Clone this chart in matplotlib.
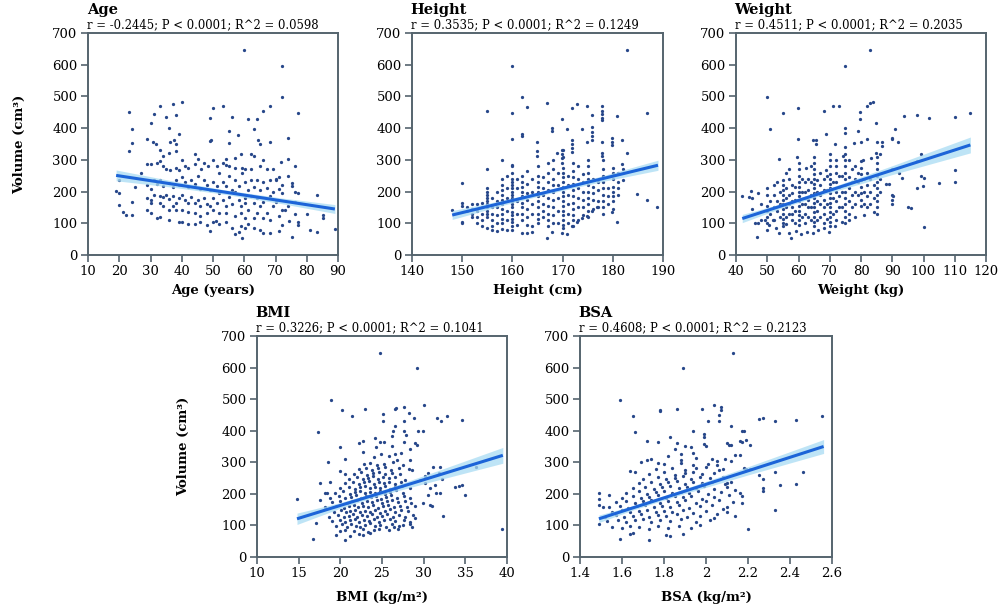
import numpy as np
import matplotlib
matplotlib.use("Agg")
from matplotlib import pyplot as plt

plt.rcParams['font.family'] = ['DejaVu Serif']

# ---------------- data ----------------
vol_ticks = [0, 100, 200, 300, 400, 500, 600, 700]

# Age panel: (age, volume)
age_pts = [
    (60.0, 645), (72.1, 596), (72.1, 497), (77.1, 447), (23.0, 451), (24.1, 396), (24.1, 354), (23.0, 327),
    (33.0, 470), (37.1, 475), (40.1, 481), (31.1, 446), (35.1, 436), (38.0, 440), (30.1, 415), (36.0, 399),
    (39.1, 380), (29.0, 365), (30.9, 357), (31.9, 351), (36.1, 357), (37.5, 364), (38.3, 351), (33.0, 332),
    (36.0, 322), (38.1, 328), (50.1, 462), (53.1, 471), (49.0, 432), (56.1, 434), (55.1, 390), (58.1, 377),
    (49.5, 364), (49.0, 360), (55.1, 352), (61.2, 430), (64.2, 429), (66.1, 454), (68.1, 469), (63.1, 396),
    (64.3, 364), (65.1, 351), (68.1, 355), (74.1, 369), (71.9, 292), (74.1, 304), (76.1, 280), (83.2, 189),
    (85.2, 126), (85.2, 116), (80.2, 129), (81.1, 78), (83.2, 71), (89.0, 81), (75.2, 58), (59.2, 55),
    (57.1, 67), (49.0, 77), (19.0, 202), (20.0, 197), (20.0, 158), (21.1, 135), (22.1, 126), (24.1, 126),
    (24.1, 167), (25.0, 213), (20.0, 238), (27.1, 259),
    (44.1, 320), (45.2, 304), (47.1, 291), (50.1, 301), (54.2, 303), (57.0, 305), (59.0, 320), (62.2, 320),
    (63.1, 311), (66.1, 301), (40.1, 301), (41.1, 282), (42.0, 275), (34.1, 311), (30.1, 288), (29.0, 288),
    (32.0, 290), (33.0, 295), (34.1, 280), (35.1, 272), (36.1, 267), (38.2, 274), (39.0, 267), (44.1, 288),
    (46.3, 271), (48.3, 280), (51.2, 282), (53.1, 289), (54.1, 285), (55.1, 280), (57.0, 275), (59.2, 274),
    (60.1, 271), (62.1, 271), (65.1, 280), (67.2, 272), (69.2, 272), (70.3, 241), (71.1, 247), (72.2, 222),
    (74.1, 248), (75.2, 226), (75.2, 216), (76.1, 200), (77.2, 195), (76.1, 166), (74.1, 153), (73.1, 143),
    (76.1, 130), (77.2, 103), (77.2, 95), (74.2, 107), (72.2, 96), (71.1, 76), (68.1, 69), (66.1, 69),
    (65.1, 80), (63.1, 84), (61.2, 97), (60.1, 86), (59.0, 92), (58.2, 71), (56.1, 86), (54.2, 103),
    (52.0, 98), (51.1, 108), (50.1, 105), (48.0, 94), (46.0, 103), (44.1, 98), (42.0, 97), (40.1, 103),
    (39.0, 103), (36.0, 111), (33.0, 120), (32.0, 116), (30.1, 132), (29.0, 143), (30.1, 164), (30.1, 174),
    (29.0, 180), (31.1, 189), (33.0, 185), (34.1, 183), (35.1, 189), (36.0, 177), (37.1, 185), (37.1, 153),
    (38.2, 164), (39.1, 181), (40.1, 189), (41.1, 174), (42.1, 164), (43.1, 183), (44.1, 164), (45.1, 174),
    (46.0, 156), (47.1, 179), (48.1, 162), (49.0, 153), (50.1, 181), (51.2, 164), (52.0, 195), (53.1, 174),
    (54.2, 153), (55.1, 183), (56.1, 162), (57.0, 198), (58.2, 174), (59.0, 153), (59.0, 132), (60.1, 179),
    (60.1, 164), (61.2, 143), (62.2, 187), (63.1, 164), (64.2, 179), (64.2, 132), (65.1, 153), (66.1, 168),
    (67.2, 132), (68.1, 187), (69.2, 153), (70.2, 166), (71.1, 124), (72.2, 143), (68.1, 111), (66.1, 116),
    (63.1, 116), (60.1, 116), (57.0, 124), (54.2, 132), (52.0, 132), (50.1, 141), (48.0, 132), (46.0, 124),
    (44.1, 132), (42.0, 137), (40.1, 143), (38.2, 143), (36.0, 143), (34.1, 153), (33.0, 164),
    (29.0, 222), (30.1, 208), (31.1, 238), (32.0, 225), (33.0, 238), (34.1, 219), (36.0, 227), (37.1, 214),
    (38.2, 238), (39.1, 221), (40.1, 246), (41.1, 229), (42.0, 214), (43.1, 238), (44.1, 225), (45.1, 248),
    (46.0, 208), (47.1, 238), (48.1, 221), (49.0, 206), (50.1, 231), (51.2, 217), (52.0, 259), (53.1, 231),
    (54.2, 219), (55.1, 248), (56.1, 206), (57.0, 238), (58.2, 217), (59.2, 259), (60.1, 229), (61.2, 206),
    (62.2, 238), (63.1, 214), (64.2, 238), (65.1, 206), (66.1, 229), (67.2, 210), (68.1, 238), (69.2, 200),
    (70.2, 238), (71.1, 208), (72.2, 195),
]

# Height panel: scattered points plus columns at whole centimetres
height_pts = [
    (182.9, 645), (159.9, 596), (161.9, 497), (162.9, 468), (166.9, 480), (154.9, 455), (159.9, 447),
    (171.9, 462), (172.8, 476), (174.9, 471), (177.8, 471), (177.8, 453), (177.8, 444), (177.8, 431),
    (177.8, 425), (175.9, 440), (180.8, 437), (186.9, 447), (169.9, 430), (167.9, 400), (167.9, 390),
    (170.9, 396), (173.9, 396), (175.9, 404), (175.9, 388), (175.9, 374), (175.9, 362), (174.9, 357),
    (161.9, 383), (161.9, 374), (159.9, 365), (164.9, 357), (164.9, 327), (164.9, 311), (169.9, 332),
    (169.9, 320), (169.9, 306), (169.9, 290), (168.9, 322), (171.9, 364), (171.9, 351), (171.9, 338),
    (171.9, 324), (177.8, 357), (177.8, 322), (177.8, 311), (179.8, 370), (179.8, 357), (179.8, 347),
    (181.8, 364), (182.8, 322), (181.8, 288), (184.9, 192), (186.9, 174), (188.9, 152), (180.8, 105),
    (179.8, 136), (150.0, 226), (150.0, 164), (150.0, 156), (150.0, 105), (150.0, 100), (148.0, 143),
    (154.9, 271), (157.9, 301), (152.0, 146), (152.0, 120), (153.0, 101), (153.9, 92), (154.9, 85),
    (155.9, 80), (156.9, 76), (157.9, 82), (159.9, 78), (161.9, 69), (162.9, 69), (163.9, 71), (166.9, 55),
    (167.9, 74), (169.9, 69), (170.9, 66), (171.9, 90), (172.8, 103), (173.9, 116), (174.9, 124),
    (175.9, 138), (176.9, 151),
]
height_cols = [
    (151, [140, 150]), (152, [130, 160]), (153, [120, 140, 160]), (154, [110, 130, 150, 165]),
    (155, [120, 130, 140, 150, 160, 170, 180, 190, 200, 210]),
    (156, [90, 110, 130, 150, 180]), (157, [100, 125, 150, 170, 200]),
    (158, [100, 115, 130, 145, 160, 175, 190, 205, 220, 240]),
    (159, [80, 110, 140, 180, 210, 250]),
    (160, [90, 105, 115, 125, 135, 150, 160, 170, 180, 190, 200, 210, 220, 230, 240, 260, 280, 285]),
    (161, [95, 130, 170, 210, 240]),
    (162, [110, 130, 150, 165, 185, 200, 215, 230, 250]),
    (163, [95, 120, 145, 175, 195, 225, 265]),
    (164, [90, 130, 160, 200, 240]),
    (165, [100, 115, 130, 150, 170, 185, 200, 215, 230, 250, 280]),
    (166, [120, 140, 160, 190, 210, 245]),
    (167, [90, 110, 130, 155, 180, 205, 230, 260, 290]),
    (168, [100, 125, 150, 175, 200, 220, 240, 270, 300]),
    (169, [100, 140, 180, 220, 260]),
    (170, [85, 95, 110, 125, 140, 155, 170, 185, 200, 215, 230, 245, 260, 275, 310, 330]),
    (171, [100, 130, 160, 190, 220, 250]),
    (172, [90, 110, 125, 145, 165, 185, 205, 225, 245, 265, 290]),
    (173, [110, 150, 180, 210, 240, 280]),
    (174, [125, 150, 175, 200, 230, 255]),
    (175, [120, 140, 160, 180, 200, 220, 240, 260, 280, 300]),
    (176, [145, 175, 195, 215, 240]),
    (177, [150, 170, 205, 230]),
    (178, [130, 150, 170, 190, 210, 230, 250, 270, 300]),
    (179, [160, 185, 210]),
    (180, [145, 170, 185, 200, 215, 240, 260, 275]),
    (181, [190, 210, 230, 260]),
    (182, [235, 270]),
]

# Weight panel
weight_pts = [
    (82.9, 645), (74.9, 596), (49.8, 497), (83.7, 482), (82.9, 478), (81.9, 471), (59.7, 462), (70.9, 469),
    (72.9, 469), (68.0, 454), (54.9, 447), (79.8, 451), (79.8, 430), (93.9, 437), (97.8, 440), (101.9, 431),
    (110.0, 434), (115.0, 447), (50.8, 396), (84.9, 416), (74.9, 399), (74.9, 385), (78.9, 390), (68.8, 380),
    (59.7, 366), (64.7, 364), (65.6, 364), (65.6, 351), (71.8, 349), (77.9, 352), (80.1, 357), (81.8, 366),
    (85.0, 357), (86.6, 357), (89.8, 366), (89.8, 370), (91.9, 356), (90.8, 398), (86.6, 343), (99.2, 318),
    (97.9, 297), (110.0, 269), (97.9, 211), (99.2, 248), (100.2, 242), (99.7, 219), (104.9, 227),
    (110.0, 229), (96.1, 149), (100.2, 88), (93.0, 243), (90.1, 185), (88.9, 225),
    (41.9, 187), (44.1, 183), (44.9, 202), (47.0, 194), (47.0, 102), (46.8, 58), (49.2, 111), (49.8, 80),
    (50.7, 96), (51.9, 111), (52.8, 84), (53.9, 69), (54.9, 90), (56.0, 97), (57.1, 69), (57.7, 55),
    (59.2, 76), (60.9, 65), (62.8, 71), (64.7, 69), (66.2, 80), (68.0, 86), (69.9, 74), (71.8, 92),
    (73.9, 103), (76.1, 111), (81.0, 126), (84.1, 137), (53.9, 303), (56.9, 271), (59.6, 309), (62.4, 274),
    (64.0, 282), (68.8, 269), (72.0, 301), (74.1, 313), (76.3, 301), (80.5, 298), (83.2, 306), (84.8, 322),
    (86.1, 320),
]
weight_cols = [
    (45, [180, 145]), (46, [100]), (48, [110, 160]), (50, [100, 120, 140, 155, 190, 210]),
    (51, [130, 170]), (52, [110, 150, 190, 220]), (53, [140, 170, 230]), (54, [120, 160, 200]),
    (55, [100, 115, 130, 145, 160, 175, 190, 205, 220, 235]),
    (56, [120, 150, 180, 210, 260]), (57, [130, 160, 190, 240]),
    (58, [110, 130, 150, 170, 195, 220]), (59, [100, 140, 175, 215]),
    (60, [95, 110, 125, 140, 155, 170, 185, 200, 215, 230, 250, 270, 290]),
    (61, [120, 160, 200, 240]), (62, [100, 130, 160, 180, 200, 230]), (63, [120, 150, 175, 205, 240]),
    (64, [110, 150, 190, 230]),
    (65, [90, 105, 120, 135, 150, 165, 180, 195, 210, 225, 240, 255, 270, 290, 310]),
    (66, [110, 140, 170, 200, 235]), (67, [120, 160, 190, 220, 260]), (68, [100, 130, 150, 175, 205, 240]),
    (69, [115, 160, 205, 250]),
    (70, [90, 105, 120, 135, 150, 165, 180, 195, 210, 225, 240, 255, 280, 300, 320]),
    (71, [130, 180, 230]), (72, [110, 140, 170, 200, 230, 260, 280]), (73, [150, 185, 215, 250]),
    (74, [150, 200, 250]),
    (75, [100, 120, 140, 160, 180, 200, 220, 240, 260, 280, 300, 320, 340]),
    (76, [130, 170, 210, 245]), (77, [150, 190, 230, 270]), (78, [120, 160, 200, 240, 280]),
    (79, [190, 230, 260]),
    (80, [155, 175, 195, 215, 235, 255, 275, 295]),
    (81, [160, 200, 240]), (82, [150, 185, 220, 260]), (83, [160, 200, 240]), (84, [180, 220]),
    (85, [130, 150, 170, 190, 210, 230, 250, 270, 290, 310]),
    (86, [200, 240]), (88, [225]), (90, [160, 175, 190, 270]), (92, [260]), (95, [150]),
]

# BMI panel
bmi_pts = [
    (24.7, 647), (29.2, 598), (18.9, 498), (22.9, 470), (20.2, 465), (21.4, 448), (26.6, 470), (26.7, 472),
    (27.6, 475), (30.0, 482), (25.1, 452), (25.1, 431), (28.2, 455), (28.8, 439), (31.6, 441), (32.1, 432),
    (32.8, 447), (34.6, 433), (17.3, 397), (27.6, 430), (26.5, 416), (27.6, 398), (27.9, 388), (29.3, 398),
    (29.9, 398), (26.3, 399), (26.2, 383), (22.2, 362), (22.7, 366), (24.7, 364), (25.2, 364), (24.1, 378),
    (19.9, 350), (22.7, 331), (24.3, 350), (26.2, 352), (27.6, 364), (29.0, 360), (29.2, 356), (28.4, 341),
    (27.3, 328), (18.5, 302), (20.6, 309), (24.0, 318), (24.9, 326), (25.8, 320), (26.5, 325), (26.8, 307),
    (28.4, 306), (28.6, 276), (31.1, 285), (31.9, 285), (32.2, 248), (36.3, 285), (33.7, 223), (34.2, 225),
    (34.6, 229), (35.0, 197), (32.3, 130), (39.4, 88), (14.8, 185), (16.7, 56), (17.1, 107), (17.6, 181),
    (17.6, 234), (18.1, 202), (18.4, 204), (18.8, 238), (19.5, 69), (20.6, 54), (21.2, 67), (19.9, 272),
    (20.6, 264), (20.0, 83), (22.2, 74), (22.7, 69), (23.6, 77), (24.6, 88), (26.4, 96), (26.9, 90),
    (27.5, 100), (28.4, 103), (28.6, 94), (29.0, 125), (29.9, 172), (30.5, 197), (30.8, 164), (31.0, 162),
    (31.5, 204), (31.9, 204), (31.4, 229), (30.7, 220), (30.2, 235), (29.5, 244), (30.1, 257), (30.5, 267),
    (31.8, 267),
    (20.5, 86), (21.6, 82), (22.7, 88), (23.3, 80), (24.0, 84), (25.8, 87),
    (19.5, 98), (20.2, 103), (20.8, 96), (21.3, 105), (21.9, 99), (22.4, 94), (23.0, 102), (23.6, 107),
    (24.2, 97), (24.8, 101), (25.5, 95), (26.2, 104), (27.0, 99),
    (19.0, 114), (20.0, 118), (20.6, 111), (21.1, 116), (21.7, 120), (22.2, 112), (22.8, 117), (23.4, 113),
    (24.0, 119), (24.6, 110), (25.2, 116), (25.9, 121), (26.6, 113), (27.6, 118), (28.4, 112),
    (18.6, 128), (19.7, 133), (20.4, 126), (21.0, 131), (21.5, 136), (22.0, 127), (22.6, 132), (23.2, 129),
    (23.8, 135), (24.4, 126), (25.0, 131), (25.6, 137), (26.3, 128), (27.0, 133), (27.8, 127), (28.7, 132),
    (19.2, 143), (20.1, 148), (20.7, 141), (21.2, 146), (21.8, 150), (22.3, 142), (22.9, 147), (23.5, 144),
    (24.1, 149), (24.7, 140), (25.3, 146), (25.9, 151), (26.5, 143), (27.3, 148), (28.1, 145),
    (18.2, 158), (19.5, 163), (20.4, 156), (21.0, 161), (21.6, 165), (22.1, 157), (22.7, 162), (23.3, 159),
    (23.9, 164), (24.5, 155), (25.1, 161), (25.7, 166), (26.4, 158), (27.1, 163), (28.0, 157), (28.9, 162),
    (19.0, 173), (20.0, 178), (20.8, 171), (21.4, 176), (22.0, 180), (22.6, 172), (23.2, 177), (23.8, 174),
    (24.4, 179), (25.0, 170), (25.6, 176), (26.2, 181), (26.9, 173), (27.7, 178), (28.5, 172),
    (18.7, 188), (19.8, 193), (20.6, 186), (21.3, 191), (21.9, 195), (22.5, 187), (23.1, 192), (23.7, 189),
    (24.3, 194), (24.9, 185), (25.5, 191), (26.1, 196), (26.8, 188), (27.6, 193), (28.4, 187),
    (19.4, 203), (20.3, 208), (21.1, 201), (21.8, 206), (22.4, 210), (23.0, 202), (23.6, 207), (24.2, 204),
    (24.8, 209), (25.4, 200), (26.0, 206), (26.7, 211), (27.5, 203),
    (20.0, 218), (21.0, 223), (21.7, 216), (22.3, 221), (22.9, 225), (23.5, 217), (24.1, 222), (24.7, 219),
    (25.3, 224), (25.9, 215), (26.6, 221), (27.4, 226), (28.3, 218),
    (20.5, 233), (21.5, 238), (22.2, 231), (22.8, 236), (23.4, 240), (24.0, 232), (24.6, 237), (25.2, 234),
    (25.8, 239), (26.5, 230), (27.3, 236),
    (21.0, 248), (22.0, 253), (22.7, 246), (23.3, 251), (23.9, 255), (24.5, 247), (25.1, 252), (25.8, 249),
    (26.6, 254), (27.8, 245),
    (21.6, 263), (22.5, 268), (23.2, 261), (23.9, 266), (24.6, 270), (25.4, 262), (26.2, 267), (27.2, 264),
    (22.2, 278), (23.1, 283), (23.8, 276), (24.5, 281), (25.3, 285), (26.1, 277), (27.0, 282), (28.2, 279),
    (22.8, 293), (23.6, 298), (24.4, 291), (25.2, 296), (26.3, 300), (27.5, 292),
]

# BSA panel
bsa_pts = [
    (2.13, 647), (1.89, 598), (1.59, 498), (1.65, 448), (1.66, 397), (1.78, 461), (1.78, 466), (1.86, 470),
    (1.98, 470), (2.04, 482), (2.07, 476), (2.07, 466), (2.06, 451), (2.06, 430), (2.01, 431), (2.12, 415),
    (2.25, 438), (2.27, 440), (2.33, 432), (2.43, 434), (2.55, 447), (1.94, 399), (1.99, 391), (1.99, 380),
    (1.99, 357), (2.00, 352), (1.72, 367), (1.77, 364), (1.83, 381), (1.86, 362), (1.90, 352), (1.93, 350),
    (1.85, 341), (2.10, 362), (2.11, 356), (2.12, 354), (2.17, 399), (2.18, 399), (2.16, 367), (2.17, 364),
    (2.19, 371), (2.21, 356), (2.14, 322), (2.16, 322), (2.09, 309), (2.12, 304), (2.05, 304), (2.18, 283),
    (2.19, 278), (2.21, 278), (2.25, 259), (2.27, 248), (2.27, 220), (2.27, 209), (2.33, 269), (2.35, 227),
    (2.43, 230), (2.46, 269), (2.33, 149), (2.20, 88), (1.49, 202), (1.49, 183), (1.49, 164), (1.49, 103),
    (1.51, 159), (1.54, 196), (1.59, 56), (1.64, 72), (1.65, 77), (1.73, 54), (1.81, 71), (1.83, 67),
    (1.89, 74), (1.97, 100), (2.04, 125), (2.10, 143), (2.14, 130), (2.17, 172), (2.17, 193), (2.16, 204),
    (2.12, 238), (2.10, 235), (1.72, 307), (1.69, 302), (1.66, 269), (1.64, 271), (1.74, 311), (1.77, 299),
    (1.82, 320), (1.88, 307), (1.88, 325), (1.94, 328), (1.95, 315), (2.03, 309), (2.05, 292), (2.08, 278),
    (1.55, 96), (1.60, 92), (1.64, 99), (1.68, 94), (1.73, 90), (1.77, 98), (1.82, 93), (1.87, 97), (1.93, 91),
    (1.53, 113), (1.58, 118), (1.62, 111), (1.66, 116), (1.70, 120), (1.74, 112), (1.78, 117), (1.83, 114),
    (1.88, 119), (1.95, 110), (2.02, 116),
    (1.52, 128), (1.57, 133), (1.61, 126), (1.65, 131), (1.69, 136), (1.73, 127), (1.77, 132), (1.81, 129),
    (1.86, 135), (1.91, 126), (1.97, 131), (2.05, 137),
    (1.55, 143), (1.60, 148), (1.64, 141), (1.68, 146), (1.72, 150), (1.76, 142), (1.80, 147), (1.84, 144),
    (1.89, 149), (1.94, 140), (2.00, 146), (2.08, 151),
    (1.54, 158), (1.59, 163), (1.63, 156), (1.67, 161), (1.71, 165), (1.75, 157), (1.79, 162), (1.83, 159),
    (1.87, 164), (1.92, 155), (1.97, 161), (2.03, 166), (2.10, 158),
    (1.57, 173), (1.62, 178), (1.66, 171), (1.70, 176), (1.74, 180), (1.78, 172), (1.82, 177), (1.86, 174),
    (1.90, 179), (1.95, 170), (2.00, 176), (2.06, 181), (2.13, 173),
    (1.60, 188), (1.65, 193), (1.69, 186), (1.73, 191), (1.77, 195), (1.81, 187), (1.85, 192), (1.89, 189),
    (1.93, 194), (1.98, 185), (2.04, 191), (2.11, 196),
    (1.62, 203), (1.68, 208), (1.72, 201), (1.76, 206), (1.80, 210), (1.84, 202), (1.88, 207), (1.92, 204),
    (1.96, 209), (2.01, 200), (2.07, 206), (2.14, 211),
    (1.65, 218), (1.71, 223), (1.75, 216), (1.79, 221), (1.83, 225), (1.87, 217), (1.91, 222), (1.95, 219),
    (1.99, 224), (2.04, 215), (2.10, 221),
    (1.68, 233), (1.74, 238), (1.78, 231), (1.82, 236), (1.86, 240), (1.90, 232), (1.94, 237), (1.98, 234),
    (2.03, 239), (2.09, 230),
    (1.70, 248), (1.77, 253), (1.81, 246), (1.85, 251), (1.89, 255), (1.93, 247), (1.97, 252), (2.02, 249),
    (2.08, 254),
    (1.73, 263), (1.80, 268), (1.85, 261), (1.90, 266), (1.94, 270), (1.98, 262), (2.04, 267),
    (1.76, 278), (1.84, 283), (1.90, 276), (1.95, 281), (2.00, 285), (2.06, 277),
    (1.80, 293), (1.88, 298), (1.94, 291), (2.01, 296),
]

# regression lines (end points) and confidence band half-widths
age_fit_x, age_fit_y = [19, 89], [251, 145]
age_band_x, age_band_h = [19, 37, 54, 72, 89], [17, 10, 7, 9, 14]
height_fit_x, height_fit_y = [148, 189], [126, 283]
height_band_x, height_band_h = [148, 158, 167, 178, 189], [14, 8, 6, 9, 16]
weight_fit_x, weight_fit_y = [42, 115], [115, 347]
weight_band_x, weight_band_h = [42, 55, 68, 90, 115], [13, 7, 7, 14, 25]
bmi_fit_x, bmi_fit_y = [14.8, 39.5], [121, 322]
bmi_band_x, bmi_band_h = [14.8, 20, 24.5, 31, 39.5], [18, 9, 7, 14, 25]
bsa_fit_x, bsa_fit_y = [1.49, 2.56], [121, 350]
bsa_band_x, bsa_band_h = [1.49, 1.65, 1.85, 2.2, 2.56], [12, 7, 7, 13, 22]

stats = {
    "Age": "r = -0.2445; P < 0.0001; R^2 = 0.0598",
    "Height": "r = 0.3535; P < 0.0001; R^2 = 0.1249",
    "Weight": "r = 0.4511; P < 0.0001; R^2 = 0.2035",
    "BMI": "r = 0.3226; P < 0.0001; R^2 = 0.1041",
    "BSA": "r = 0.4608; P < 0.0001; R^2 = 0.2123",
}

DOT = '#27478a'
LINE = '#1c64d8'
BAND = '#a9dcf3'
FRAME = '#55646e'

W, H = 1000, 612
fig = plt.figure(figsize=(W / 100, H / 100), dpi=100)


def flatten_cols(cols):
    return [(x, y) for x, ys in cols for y in ys]


def panel(px, py, pw, ph, pts, fit_x, fit_y, band_x, band_h, xlim, xticks,
          title, xlabel, ylabel=None, xlab_off=29, ylab_off=62):
    ax = fig.add_axes([px / W, 1 - (py + ph) / H, pw / W, ph / H])
    arr = np.array(pts, dtype=float)
    ax.scatter(arr[:, 0], arr[:, 1], s=5.5, color=DOT, linewidths=0, zorder=2)
    bx = np.array(band_x, dtype=float)
    mid = np.interp(bx, fit_x, fit_y)
    hw = np.array(band_h, dtype=float)
    ax.fill_between(bx, mid - hw, mid + hw, color=BAND, alpha=0.75, linewidth=0, zorder=3)
    ax.plot(fit_x, fit_y, color=LINE, lw=2.2, zorder=4, solid_capstyle='butt')

    ax.set_xlim(xlim)
    ax.set_ylim(0, 700)
    ax.set_xticks(xticks)
    ax.set_xticklabels([f"{t:g}" for t in xticks])
    ax.set_yticks(vol_ticks)
    ax.tick_params(labelsize=9.5, length=5, width=1.2, color=FRAME, pad=2.5)
    for s in ax.spines.values():
        s.set_color(FRAME)
        s.set_linewidth(1.4)

    ax.set_xlabel(xlabel, fontsize=9.5, fontweight='bold')
    ax.xaxis.set_label_coords(0.5, -xlab_off / ph)
    if ylabel:
        ax.set_ylabel(ylabel, fontsize=9.5, fontweight='bold')
        ax.yaxis.set_label_coords(-ylab_off / pw, 0.5)

    ax.annotate(title, xy=(0, 1), xycoords='axes fraction', xytext=(-1, 16.5),
                textcoords='offset points', ha='left', va='center',
                fontsize=10.5, fontweight='bold')
    ax.annotate(stats[title], xy=(0, 1), xycoords='axes fraction', xytext=(-1, 5.8),
                textcoords='offset points', ha='left', va='center', fontsize=8.4)
    return ax


panel(88, 33, 250, 222, age_pts, age_fit_x, age_fit_y, age_band_x, age_band_h,
      (10, 90), list(range(10, 91, 10)), "Age", "Age (years)", "Volume (cm³)")
panel(412, 33, 251, 222, height_pts + flatten_cols(height_cols), height_fit_x, height_fit_y,
      height_band_x, height_band_h, (140, 190), list(range(140, 191, 10)), "Height", "Height (cm)")
panel(736, 33, 250, 222, weight_pts + flatten_cols(weight_cols), weight_fit_x, weight_fit_y,
      weight_band_x, weight_band_h, (40, 120), list(range(40, 121, 10)), "Weight", "Weight (kg)")
panel(257, 336, 250, 221, bmi_pts, bmi_fit_x, bmi_fit_y, bmi_band_x, bmi_band_h,
      (10, 40), list(range(10, 41, 5)), "BMI", "BMI (kg/m²)", "Volume (cm³)",
      xlab_off=34, ylab_off=67)
panel(580, 336, 252, 221, bsa_pts, bsa_fit_x, bsa_fit_y, bsa_band_x, bsa_band_h,
      (1.4, 2.6), [1.4, 1.6, 1.8, 2.0, 2.2, 2.4, 2.6], "BSA", "BSA (kg/m²)", xlab_off=34)

fig.savefig("out.png", dpi=100)
